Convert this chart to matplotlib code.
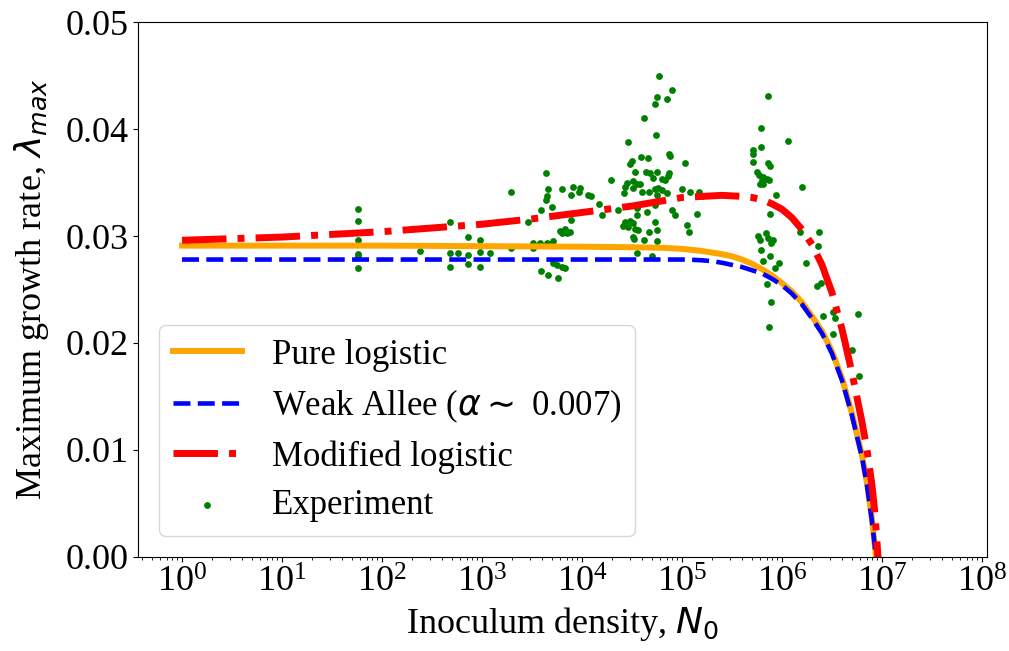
import matplotlib
matplotlib.use('Agg')
import matplotlib.pyplot as plt
import numpy as np
from matplotlib.ticker import FixedLocator, LogLocator, NullFormatter, FormatStrFormatter

plt.rcParams['font.family'] = 'Liberation Serif'
plt.rcParams['mathtext.fontset'] = 'dejavusans'

# model curves (log10 N0 -> max growth rate)
pure_logN = [0, 1, 2, 3, 4, 4.5, 4.8, 5.0, 5.1, 5.2, 5.3, 5.4, 5.5, 5.6, 5.7,
             5.8, 5.9, 6.0, 6.1, 6.2, 6.3, 6.4, 6.5, 6.6, 6.7, 6.8, 6.85, 6.9,
             6.94, 6.96]
pure_rate = [0.0291, 0.0291, 0.0291, 0.02905, 0.0290, 0.02895, 0.0289, 0.0288,
             0.0287, 0.0286, 0.02845, 0.0283, 0.0281, 0.0278, 0.0274, 0.0269,
             0.0263, 0.0256, 0.0248, 0.0238, 0.0225, 0.0211, 0.0192, 0.0167,
             0.0134, 0.0095, 0.0069, 0.0035, 0.0, -0.002]

allee_logN = [0, 1, 2, 3, 4, 4.5, 5.0, 5.1, 5.2, 5.3, 5.4, 5.5, 5.6, 5.7, 5.8,
              5.9, 6.0, 6.1, 6.2, 6.3, 6.4, 6.5, 6.6, 6.7, 6.8, 6.85, 6.9, 6.94,
              6.96]
allee_rate = [0.0278, 0.0278, 0.0278, 0.0278, 0.0278, 0.0278, 0.0278, 0.02778,
              0.02773, 0.02765, 0.0275, 0.0273, 0.0271, 0.0268, 0.0265, 0.0260,
              0.0254, 0.0246, 0.0236, 0.0223, 0.0209, 0.0190, 0.0165, 0.0132,
              0.0093, 0.0067, 0.0033, 0.0, -0.002]

mod_logN = [0, 1, 2, 3, 3.5, 4, 4.5, 5.0, 5.2, 5.4, 5.6, 5.7, 5.8, 5.9, 6.0,
            6.1, 6.2, 6.3, 6.4, 6.5, 6.6, 6.7, 6.8, 6.85, 6.9, 6.93, 6.96, 6.98]
mod_rate = [0.0296, 0.0299, 0.0304, 0.0311, 0.0316, 0.0322, 0.0328, 0.0336,
            0.0337, 0.0338, 0.0337, 0.0336, 0.0334, 0.0330, 0.0325, 0.0317,
            0.0306, 0.0292, 0.0273, 0.0247, 0.0213, 0.0172, 0.0126, 0.0100,
            0.0067, 0.0040, 0.0, -0.002]

# experimental points, grouped by inoculum cluster (log10 N0, rate)
exp_logN_a = [1.76, 1.76, 1.76, 1.76, 1.76, 1.76]
exp_rate_a = [0.0325, 0.0314, 0.0296, 0.0283, 0.0281, 0.0270]

exp_logN_b = [2.38, 2.68, 2.68, 2.68, 2.76, 2.86, 2.86, 2.86, 2.98, 2.98, 2.98, 3.08]
exp_rate_b = [0.0286, 0.0313, 0.0284, 0.0271, 0.0284, 0.0299, 0.0282, 0.0274,
              0.0296, 0.0285, 0.0271, 0.0284]

exp_logN_c = [3.29, 3.29, 3.46, 3.51, 3.51, 3.58, 3.59, 3.59, 3.64, 3.66,
              3.65, 3.64, 3.65, 3.66, 3.70, 3.71, 3.71, 3.75, 3.76, 3.78,
              3.80, 3.80, 3.80, 3.83, 3.83, 3.85, 3.88, 3.89, 3.89, 3.91,
              3.98, 3.97, 4.06, 4.09, 4.17, 4.20, 4.29, 4.36]
exp_rate_c = [0.0341, 0.0289, 0.0313, 0.0293, 0.0289, 0.0293, 0.0324, 0.0267, 0.0359, 0.0344,
              0.0337, 0.0334, 0.0293, 0.0264, 0.0327, 0.0295, 0.0275, 0.0273, 0.0261, 0.0305,
              0.0344, 0.0303, 0.0271, 0.0307, 0.0270, 0.0303, 0.0304, 0.0315, 0.0338, 0.0346,
              0.0345, 0.0341, 0.0338, 0.0337, 0.0330, 0.0320, 0.0352, 0.0324]

exp_logN_d = [4.77, 4.90, 4.75, 4.85, 4.73, 4.62, 4.74, 4.46, 4.87, 4.88,
              4.59, 4.66, 4.50, 4.48, 5.03, 4.53, 4.64, 4.68, 4.75, 4.87,
              4.86, 4.71, 4.80, 4.83, 4.45, 4.51, 4.55, 4.58, 4.43, 4.51,
              4.60, 4.42, 4.67, 4.73, 4.76, 4.80, 4.75, 4.85, 5.00, 5.08,
              5.17, 5.20, 4.55, 4.65, 4.73, 4.90, 4.93, 5.15, 4.43, 4.48,
              4.51, 4.41, 4.46, 4.53, 4.56, 4.55, 4.73, 4.75, 4.67, 4.51,
              4.52, 4.62, 4.75, 5.05, 5.07, 4.55, 4.70]
exp_rate_d = [0.0450, 0.0436, 0.0430, 0.0428, 0.0423, 0.0410, 0.0394, 0.0388, 0.0377, 0.0375,
              0.0374, 0.0373, 0.0370, 0.0367, 0.0368, 0.0360, 0.0360, 0.0359, 0.0360, 0.0359,
              0.0356, 0.0354, 0.0353, 0.0352, 0.0350, 0.0351, 0.0349, 0.0349, 0.0346, 0.0345,
              0.0341, 0.0340, 0.0341, 0.0344, 0.0345, 0.0343, 0.0338, 0.0340, 0.0344, 0.0341,
              0.0341, 0.0337, 0.0326, 0.0322, 0.0329, 0.0324, 0.0320, 0.0321, 0.0313, 0.0314,
              0.0312, 0.0309, 0.0308, 0.0307, 0.0306, 0.0320, 0.0313, 0.0306, 0.0304, 0.0299,
              0.0297, 0.0296, 0.0295, 0.0310, 0.0304, 0.0284, 0.0281]

exp_logN_e = [5.86, 5.79, 6.06, 5.71, 5.71, 5.79, 5.71, 5.86, 5.88, 5.75,
              5.77, 5.81, 5.80, 5.85, 5.87, 5.78, 5.81, 6.20, 5.94, 5.88,
              5.76, 5.78, 5.84, 5.86, 5.89, 5.91, 5.79, 5.81, 5.88, 5.97,
              5.93, 5.85, 5.89, 5.87]
exp_rate_e = [0.0431, 0.0401, 0.0389, 0.0380, 0.0377, 0.0383, 0.0369, 0.0368, 0.0365, 0.0360,
              0.0357, 0.0355, 0.0352, 0.0353, 0.0352, 0.0349, 0.0349, 0.0346, 0.0338, 0.0321,
              0.0300, 0.0296, 0.0303, 0.0298, 0.0293, 0.0296, 0.0287, 0.0277, 0.0281, 0.0275,
              0.0270, 0.0255, 0.0238, 0.0215]

exp_logN_f = [6.18, 6.37, 6.36, 6.24, 6.35, 6.39, 6.41, 6.51, 6.53, 6.51, 6.76, 6.70, 6.77]
exp_rate_f = [0.0304, 0.0304, 0.0291, 0.0275, 0.0253, 0.0256, 0.0225, 0.0229, 0.0223,
              0.0208, 0.0227, 0.0193, 0.0169]

exp_logN = np.concatenate([exp_logN_a, exp_logN_b, exp_logN_c, exp_logN_d, exp_logN_e, exp_logN_f])
exp_rate = np.concatenate([exp_rate_a, exp_rate_b, exp_rate_c, exp_rate_d, exp_rate_e, exp_rate_f])

FS = 26

fig = plt.figure(figsize=(10.09, 6.51), dpi=100)
ax = fig.add_axes([0.1368, 0.1444, 0.8414, 0.8218])

ax.plot(10 ** np.array(pure_logN), pure_rate, color='orange', lw=4.3,
        label='Pure logistic')
ax.plot(10 ** np.array(allee_logN), allee_rate, color='blue', ls='--', lw=3.3,
        label=r'Weak Allee ($\alpha\sim$ 0.007)')
ax.plot(10 ** np.array(mod_logN), mod_rate, color='red', ls='-.', lw=5,
        label='Modified logistic')
ax.scatter(10 ** exp_logN, exp_rate, s=24, color='green', linewidths=0,
           label='Experiment')

ax.set_xscale('log')
ax.set_xlim(10 ** -0.44, 10 ** 8.05)
ax.set_ylim(0, 0.05)
ax.xaxis.set_major_locator(FixedLocator([10.0 ** k for k in range(9)]))
ax.xaxis.set_minor_locator(LogLocator(base=10, subs=np.arange(2, 10), numticks=20))
ax.xaxis.set_minor_formatter(NullFormatter())
ax.yaxis.set_major_formatter(FormatStrFormatter('%.2f'))
ax.tick_params(labelsize=FS)

ax.set_xlabel(r'Inoculum density, $N_0$', fontsize=FS)
ax.set_ylabel(r'Maximum growth rate, $\lambda_{max}$', fontsize=FS, labelpad=10)

ax.legend(loc='lower left', fontsize=25, borderaxespad=0.6, handletextpad=0.85,
          labelspacing=0.45)

fig.savefig('out.png', dpi=100, facecolor='white')
